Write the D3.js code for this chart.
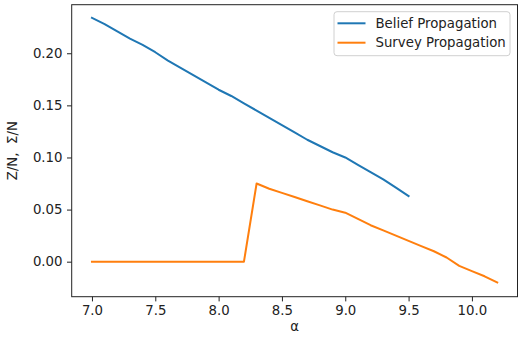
<!DOCTYPE html>
<html><head><meta charset="utf-8">
<script src="https://cdn.jsdelivr.net/npm/d3@7"></script>
<style>body{margin:0;background:#fff}svg{display:block}text{font-family:"DejaVu Sans",sans-serif;fill:#222}</style>
</head><body><svg id="c" width="518" height="337"></svg>
<script>
const alphaBP = [7.0,7.1,7.2,7.3,7.4,7.5,7.6,7.7,7.8,7.9,8.0,8.1,8.2,8.3,8.4,8.5,8.6,8.7,8.8,8.9,9.0,9.1,9.2,9.3,9.4,9.5];
const valuesBP = [0.234,0.228,0.221,0.214,0.208,0.201,0.193,0.186,0.179,0.172,0.165,0.159,0.152,0.145,0.138,0.131,0.124,0.117,0.111,0.105,0.100,0.093,0.086,0.079,0.071,0.063];
const alphaSP = [7.0,7.1,7.2,7.3,7.4,7.5,7.6,7.7,7.8,7.9,8.0,8.1,8.2,8.3,8.4,8.5,8.6,8.7,8.8,8.9,9.0,9.1,9.2,9.3,9.4,9.5,9.6,9.7,9.8,9.9,10.0,10.1,10.2];
const valuesSP = [0,0,0,0,0,0,0,0,0,0,0,0,0,0.075,0.070,0.066,0.062,0.058,0.054,0.050,0.047,0.041,0.035,0.030,0.025,0.020,0.015,0.010,0.004,-0.004,-0.009,-0.014,-0.020];
const xTicks = [7.0,7.5,8.0,8.5,9.0,9.5,10.0];
const yTicks = [0.00,0.05,0.10,0.15,0.20];
const seriesNames = ["Belief Propagation","Survey Propagation"];
const colors = ["#1f77b4","#ff7f0e"];

const svg = d3.select("#c");
const L=71.7, R=517.5, T=4.7, B=296.7;
const x = d3.scaleLinear().domain([6.84,10.36]).range([L,R]);
const y = d3.scaleLinear().domain([-0.0336,0.2466]).range([B,T]);
const fs = 13.3;

const xa = svg.append("g").attr("transform",`translate(0,${B})`)
  .call(d3.axisBottom(x).tickValues(xTicks).tickFormat(d3.format(".1f")).tickSize(4.7).tickPadding(4));
const ya = svg.append("g").attr("transform",`translate(${L},0)`)
  .call(d3.axisLeft(y).tickValues(yTicks).tickFormat(d3.format(".2f")).tickSize(4.7).tickPadding(4.5));
[xa,ya].forEach(a=>{a.select(".domain").remove();a.selectAll("line").attr("stroke","#222").attr("stroke-width",1);
  a.selectAll("text").attr("font-size",fs).attr("font-family","DejaVu Sans").style("fill","#222");});

svg.append("rect").attr("x",L).attr("y",T).attr("width",R-L).attr("height",B-T)
  .attr("fill","none").attr("stroke","#222").attr("stroke-width",1);

const line = d3.line().x(d=>x(d[0])).y(d=>y(d[1]));
const data = [d3.zip(alphaBP,valuesBP), d3.zip(alphaSP,valuesSP)];
data.forEach((d,i)=>svg.append("path").datum(d).attr("d",line).attr("fill","none")
  .attr("stroke",colors[i]).attr("stroke-width",2).attr("stroke-linejoin","round").attr("stroke-linecap","square"));

svg.append("text").attr("x",(L+R)/2).attr("y",330.5).attr("text-anchor","middle").attr("font-size",fs).text("α");
svg.append("text").attr("transform",`translate(17,${(T+B)/2}) rotate(-90)`).attr("text-anchor","middle")
  .attr("font-size",fs).style("white-space","pre").text("Z/N,  Σ/N");

const lg = svg.append("g");
lg.append("rect").attr("x",334).attr("y",11.7).attr("width",176).attr("height",44).attr("rx",3)
  .attr("fill","#fff").attr("fill-opacity",0.8).attr("stroke","#d0d0d0").attr("stroke-width",1);
seriesNames.forEach((n,i)=>{
  const yy = 23.3 + i*19.4;
  lg.append("line").attr("x1",337.5).attr("x2",365.5).attr("y1",yy).attr("y2",yy).attr("stroke",colors[i]).attr("stroke-width",2);
  lg.append("text").attr("x",375.5).attr("y",yy).attr("dy","0.35em").attr("font-size",fs).text(n);
});
</script></body></html>
